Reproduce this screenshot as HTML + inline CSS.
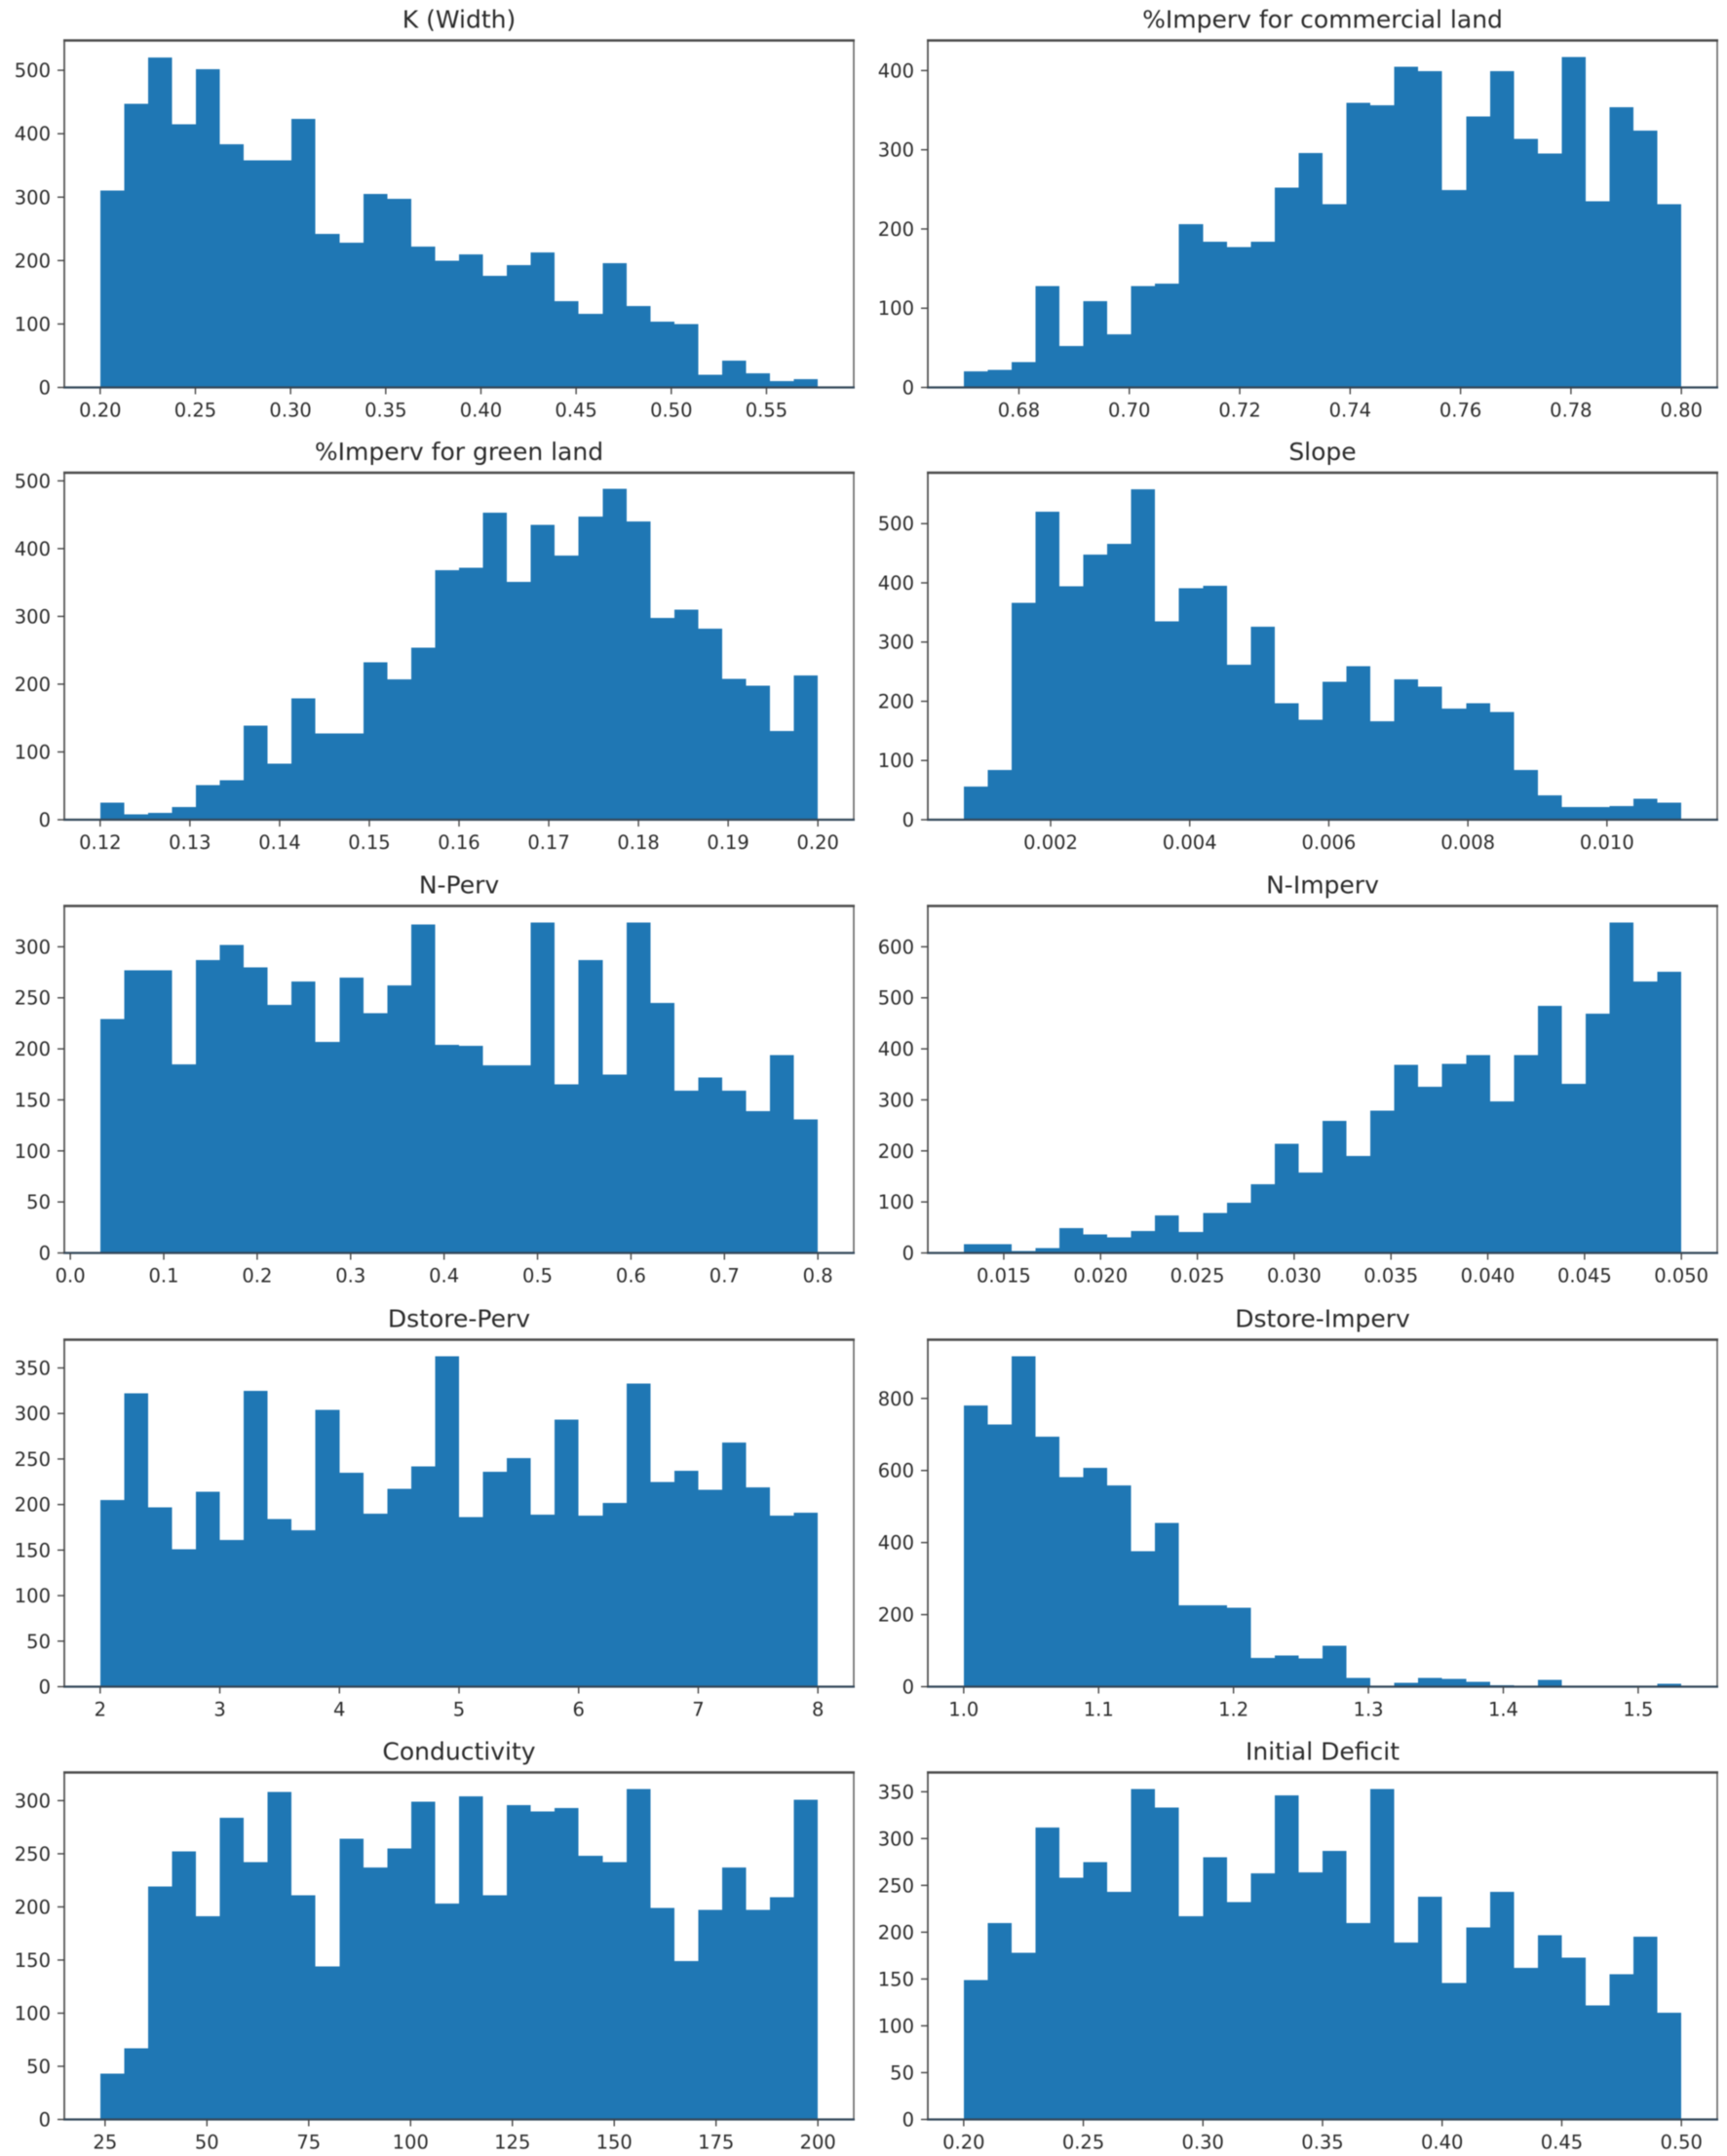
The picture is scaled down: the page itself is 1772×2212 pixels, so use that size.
<!DOCTYPE html>
<html lang="en">
<head>
<meta charset="utf-8">
<title>Parameter histograms</title>
<style>
  html, body { margin: 0; padding: 0; background: #fff; }
  body { width: 1772px; height: 2212px; overflow: hidden; }
  svg { display: block; filter: blur(0.55px); }
  text { font-family: "DejaVu Sans", "Liberation Sans", sans-serif; fill: #2b2b2b; }
  .tick-label { font-size: 19.5px; }
  .panel-title { font-size: 25px; text-anchor: middle; }
</style>
</head>
<body>
<svg id="chart" xmlns="http://www.w3.org/2000/svg" width="1772" height="2212" viewBox="0 0 1772 2212"></svg>
<script>
const kWidthValues = [310,447,520,415,502,383,358,358,423,242,228,305,297,222,200,210,176,193,213,136,116,196,128,104,100,20,42,22,10,13];
const kWidthXTicks = ["0.20","0.25","0.30","0.35","0.40","0.45","0.50","0.55"];
const kWidthYTicks = [0,100,200,300,400,500];

const imperCommercialValues = [20,22,32,128,52,109,67,128,131,206,184,177,184,252,296,231,359,356,405,399,249,342,399,314,295,417,235,354,324,231];
const imperCommercialXTicks = ["0.68","0.70","0.72","0.74","0.76","0.78","0.80"];
const imperCommercialYTicks = [0,100,200,300,400];

const imperGreenValues = [25,8,10,19,51,58,139,83,179,127,127,232,207,254,368,372,453,351,435,390,447,488,440,298,310,282,208,198,131,213];
const imperGreenXTicks = ["0.12","0.13","0.14","0.15","0.16","0.17","0.18","0.19","0.20"];
const imperGreenYTicks = [0,100,200,300,400,500];

const slopeValues = [56,84,366,520,394,448,466,558,335,391,395,262,326,197,169,233,259,166,237,225,188,197,182,84,41,21,21,23,35,29];
const slopeXTicks = ["0.002","0.004","0.006","0.008","0.010"];
const slopeYTicks = [0,100,200,300,400,500];

const nPervValues = [229,277,277,185,287,302,280,243,266,207,270,235,262,322,204,203,184,184,324,165,287,175,324,245,159,172,159,139,194,131];
const nPervXTicks = ["0.0","0.1","0.2","0.3","0.4","0.5","0.6","0.7","0.8"];
const nPervYTicks = [0,50,100,150,200,250,300];

const nImpervValues = [17,17,4,10,49,36,31,43,74,41,78,98,135,214,158,259,190,279,369,326,371,388,297,388,484,331,469,648,532,551];
const nImpervXTicks = ["0.015","0.020","0.025","0.030","0.035","0.040","0.045","0.050"];
const nImpervYTicks = [0,100,200,300,400,500,600];

const dstorePervValues = [205,322,197,151,214,161,325,184,172,304,235,190,217,242,363,186,236,251,189,293,188,202,333,225,237,216,268,219,188,191];
const dstorePervXTicks = ["2","3","4","5","6","7","8"];
const dstorePervYTicks = [0,50,100,150,200,250,300,350];

const dstoreImpervValues = [780,728,917,694,582,607,559,376,454,226,226,219,80,86,78,114,25,3,11,25,22,14,4,0,19,0,2,1,0,8];
const dstoreImpervXTicks = ["1.0","1.1","1.2","1.3","1.4","1.5"];
const dstoreImpervYTicks = [0,200,400,600,800];

const conductivityValues = [43,67,219,252,191,284,242,308,211,144,264,237,255,299,203,304,211,296,290,293,248,242,311,199,149,197,237,197,209,301];
const conductivityXTicks = ["25","50","75","100","125","150","175","200"];
const conductivityYTicks = [0,50,100,150,200,250,300];

const initialDeficitValues = [149,210,178,312,258,275,243,353,333,217,280,232,263,346,264,287,210,353,189,238,146,205,243,162,197,173,122,155,195,114];
const initialDeficitXTicks = ["0.20","0.25","0.30","0.35","0.40","0.45","0.50"];
const initialDeficitYTicks = [0,50,100,150,200,250,300,350];

const SVG_NS = 'http://www.w3.org/2000/svg';
const svg = document.getElementById('chart');

const columnLeft = [66, 952];
const columnWidth = 810;
const rowTop = [41.5, 485, 929.5, 1374.5, 1818.5];
const rowHeight = 356;

const panels = [
  { name: 'k-width', title: 'K (Width)', values: kWidthValues, binStart: 0.2, binEnd: 0.577, yMax: 547, xTicks: kWidthXTicks, yTicks: kWidthYTicks, col: 0, row: 0 },
  { name: 'imperv-commercial', title: '%Imperv for commercial land', values: imperCommercialValues, binStart: 0.67, binEnd: 0.8, yMax: 438, xTicks: imperCommercialXTicks, yTicks: imperCommercialYTicks, col: 1, row: 0 },
  { name: 'imperv-green', title: '%Imperv for green land', values: imperGreenValues, binStart: 0.12, binEnd: 0.2, yMax: 512, xTicks: imperGreenXTicks, yTicks: imperGreenYTicks, col: 0, row: 1 },
  { name: 'slope', title: 'Slope', values: slopeValues, binStart: 0.00075, binEnd: 0.01107, yMax: 586, xTicks: slopeXTicks, yTicks: slopeYTicks, col: 1, row: 1 },
  { name: 'n-perv', title: 'N-Perv', values: nPervValues, binStart: 0.032, binEnd: 0.8, yMax: 340, xTicks: nPervXTicks, yTicks: nPervYTicks, col: 0, row: 2 },
  { name: 'n-imperv', title: 'N-Imperv', values: nImpervValues, binStart: 0.01293, binEnd: 0.05, yMax: 680, xTicks: nImpervXTicks, yTicks: nImpervYTicks, col: 1, row: 2 },
  { name: 'dstore-perv', title: 'Dstore-Perv', values: dstorePervValues, binStart: 2, binEnd: 8, yMax: 381, xTicks: dstorePervXTicks, yTicks: dstorePervYTicks, col: 0, row: 3 },
  { name: 'dstore-imperv', title: 'Dstore-Imperv', values: dstoreImpervValues, binStart: 1, binEnd: 1.532, yMax: 963, xTicks: dstoreImpervXTicks, yTicks: dstoreImpervYTicks, col: 1, row: 3 },
  { name: 'conductivity', title: 'Conductivity', values: conductivityValues, binStart: 23.8, binEnd: 200, yMax: 326.5, xTicks: conductivityXTicks, yTicks: conductivityYTicks, col: 0, row: 4 },
  { name: 'initial-deficit', title: 'Initial Deficit', values: initialDeficitValues, binStart: 0.2, binEnd: 0.5, yMax: 370.6, xTicks: initialDeficitXTicks, yTicks: initialDeficitYTicks, col: 1, row: 4 }
];

function make(tag, attrs, parent) {
  const el = document.createElementNS(SVG_NS, tag);
  for (const key in attrs) el.setAttribute(key, attrs[key]);
  parent.appendChild(el);
  return el;
}

function drawPanel(panel) {
  const left = columnLeft[panel.col];
  const top = rowTop[panel.row];
  const bottom = top + rowHeight;
  const right = left + columnWidth;
  const span = panel.binEnd - panel.binStart;
  const xLo = panel.binStart - 0.05 * span;
  const xHi = panel.binEnd + 0.05 * span;
  const xScale = v => left + (v - xLo) / (xHi - xLo) * columnWidth;
  const yScale = v => bottom - (v / panel.yMax) * rowHeight;

  const group = make('g', {}, svg);
  
  

  const binWidth = span / panel.values.length;
  panel.values.forEach((value, i) => {
    const x0 = xScale(panel.binStart + i * binWidth);
    const x1 = xScale(panel.binStart + (i + 1) * binWidth);
    const bar = make('rect', { x: x0, y: yScale(value), width: x1 - x0, height: bottom - yScale(value), fill: '#1f77b4', 'shape-rendering': 'crispEdges' }, group);
    
    
  });

  const spines = [
    { side: 'left', x1: left, y1: top, x2: left, y2: bottom, width: 1.8, color: '#555' },
    { side: 'right', x1: right, y1: top, x2: right, y2: bottom, width: 1.6, color: '#666' },
    { side: 'top', x1: left - 1, y1: top, x2: right + 1, y2: top, width: 2.4, color: '#4a4a4a' },
    { side: 'bottom', x1: left - 1, y1: bottom, x2: right + 1, y2: bottom, width: 2.2, color: '#33475a' }
  ];
  spines.forEach(s => {
    const line = make('line', { x1: s.x1, y1: s.y1, x2: s.x2, y2: s.y2, stroke: s.color, 'stroke-width': s.width }, group);
    
    
  });

  panel.xTicks.forEach(label => {
    const x = xScale(parseFloat(label));
    const tick = make('line', { x1: x, y1: bottom, x2: x, y2: bottom + 7, stroke: '#444', 'stroke-width': 1.4 }, group);
    
    
    const text = make('text', { x: x, y: bottom + 30, 'text-anchor': 'middle', class: 'tick-label' }, group);
    text.textContent = label;
    
    
  });

  panel.yTicks.forEach(value => {
    const y = yScale(value);
    const tick = make('line', { x1: left - 7, y1: y, x2: left, y2: y, stroke: '#444', 'stroke-width': 1.4 }, group);
    
    
    const text = make('text', { x: left - 14, y: y + 7, 'text-anchor': 'end', class: 'tick-label' }, group);
    text.textContent = String(value);
    
    
  });

  const title = make('text', { x: left + columnWidth / 2, y: top - 13, class: 'panel-title' }, group);
  title.textContent = panel.title;
  
  
}

panels.forEach(drawPanel);
</script>
</body>
</html>
